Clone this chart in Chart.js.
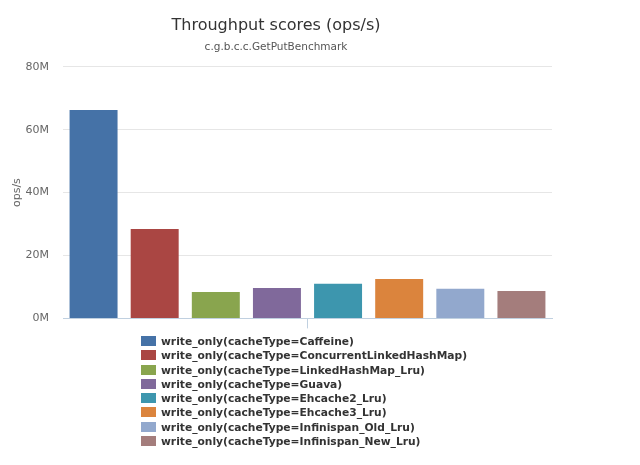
<!DOCTYPE html>
<html>
<head>
<meta charset="utf-8">
<script src="https://cdn.jsdelivr.net/npm/chart.js@4"></script>
<style>
  body { margin: 0; background: #fff; }
  #wrap { position: relative; width: 640px; height: 465px; }
  #chart { position: absolute; left: 0; top: 0; }
  #legend { position: absolute; left: 141px; top: 335px; font: bold 10.7px "DejaVu Sans", sans-serif; color: #333; }
  #legend div { height: 14.3px; line-height: 14.3px; white-space: nowrap; }
  #legend span { display: inline-block; width: 15px; height: 10px; margin-right: 5px; vertical-align: -1px; }
</style>
</head>
<body>
<div id="wrap">
  <canvas id="chart" width="557" height="339"></canvas>
  <div id="legend"></div>
</div>
<script>
// throughput in millions of ops/s
const cacheTypes = ['Caffeine', 'ConcurrentLinkedHashMap', 'LinkedHashMap_Lru', 'Guava',
  'Ehcache2_Lru', 'Ehcache3_Lru', 'Infinispan_Old_Lru', 'Infinispan_New_Lru'];
const scores = [66.3, 28.4, 8.4, 9.7, 11.0, 12.5, 9.4, 8.7];
const colors = ['#4572A7', '#AA4643', '#89A54E', '#80699B', '#3D96AE', '#DB843D', '#92A8CD', '#A47D7C'];
const yTicks = [0, 20, 40, 60, 80];

const datasets = cacheTypes.map((c, i) => ({
  label: 'write_only(cacheType=' + c + ')',
  data: [scores[i]],
  backgroundColor: colors[i],
  borderWidth: 0,
  categoryPercentage: 1,
  barPercentage: 0.785
}));

const font = 'DejaVu Sans';
const chart = new Chart(document.getElementById('chart'), {
  type: 'bar',
  data: { labels: [''], datasets: datasets },
  options: {
    responsive: false,
    animation: false,
    layout: { padding: { left: 0, right: 5, top: 0, bottom: 0 } },
    plugins: {
      legend: { display: false },
      tooltip: { enabled: false },
      title: {
        display: true,
        text: 'Throughput scores (ops/s)',
        color: '#333',
        font: { family: font, size: 16, weight: 'normal' },
        padding: { top: 16, bottom: 6 }
      },
      subtitle: {
        display: true,
        text: 'c.g.b.c.c.GetPutBenchmark',
        color: '#555',
        font: { family: font, size: 10.5 },
        padding: { top: 0, bottom: 13 }
      }
    },
    scales: {
      x: {
        grid: { offset: false, drawOnChartArea: false, tickLength: 10, color: '#c0d0e0' },
        border: { color: '#c0d0e0' },
        ticks: { display: true, font: { size: 1 } },
        afterFit: s => { s.height = 12; }
      },
      y: {
        min: 0,
        max: 80,
        afterBuildTicks: s => { s.ticks = yTicks.map(v => ({ value: v })); },
        grid: { color: '#e6e6e6', drawTicks: false },
        border: { display: false },
        ticks: {
          padding: 14,
          color: '#666',
          font: { family: font, size: 11 },
          callback: v => v + 'M'
        },
        title: {
          display: true,
          text: 'ops/s',
          color: '#666',
          font: { family: font, size: 11 },
          padding: { top: 11, bottom: 0 }
        },
        afterFit: s => { s.width = 63; }
      }
    }
  }
});

// legend as one column under the plot
const legend = document.getElementById('legend');
chart.data.datasets.forEach(ds => {
  const row = document.createElement('div');
  const sw = document.createElement('span');
  sw.style.background = ds.backgroundColor;
  row.appendChild(sw);
  row.appendChild(document.createTextNode(ds.label));
  legend.appendChild(row);
});
</script>
</body>
</html>
